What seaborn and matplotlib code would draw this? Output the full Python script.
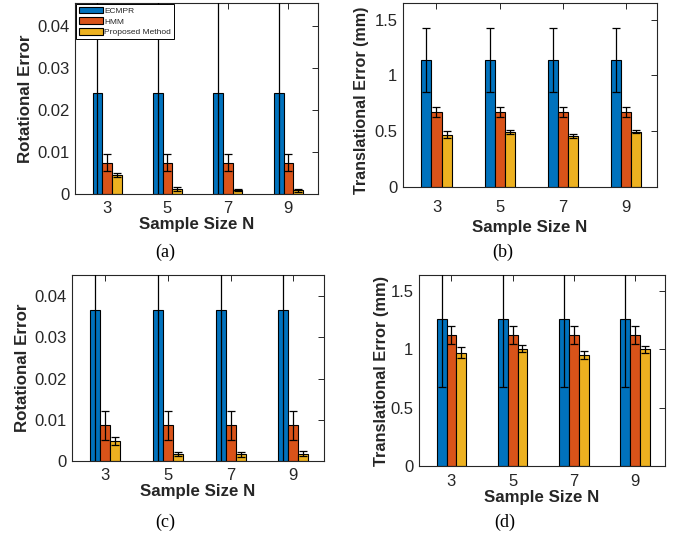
import matplotlib
matplotlib.use("Agg")
import matplotlib.pyplot as plt
from matplotlib.patches import Patch
import seaborn as sns
import pandas as pd

# ---- data -------------------------------------------------------------
sample_sizes = ["3", "5", "7", "9"]
methods = ["ECMPR", "HMM", "Proposed Method"]
colors = ["#0072BD", "#D95319", "#EDB120"]

# (a) rotational error, first setting
rot_a_ecmpr = [0.024, 0.024, 0.024, 0.024]
rot_a_hmm = [0.0075, 0.0075, 0.0075, 0.0075]
rot_a_prop = [0.0045, 0.0012, 0.0009, 0.0009]
rot_a_ecmpr_err = [0.030, 0.030, 0.030, 0.030]
rot_a_hmm_err = [0.0020, 0.0020, 0.0020, 0.0020]
rot_a_prop_err = [0.0005, 0.0005, 0.0003, 0.0004]

# (b) translational error, first setting
tr_b_ecmpr = [1.14, 1.14, 1.14, 1.14]
tr_b_hmm = [0.67, 0.67, 0.67, 0.67]
tr_b_prop = [0.468, 0.497, 0.457, 0.497]
tr_b_ecmpr_err = [0.285, 0.285, 0.285, 0.285]
tr_b_hmm_err = [0.045, 0.045, 0.045, 0.045]
tr_b_prop_err = [0.030, 0.018, 0.014, 0.015]

# (c) rotational error, second setting
rot_c_ecmpr = [0.0366, 0.0366, 0.0366, 0.0366]
rot_c_hmm = [0.0087, 0.0087, 0.0087, 0.0087]
rot_c_prop = [0.0049, 0.0017, 0.0016, 0.0018]
rot_c_ecmpr_err = [0.040, 0.040, 0.040, 0.040]
rot_c_hmm_err = [0.0035, 0.0035, 0.0035, 0.0035]
rot_c_prop_err = [0.0010, 0.0006, 0.0007, 0.0007]

# (d) translational error, second setting
tr_d_ecmpr = [1.257, 1.257, 1.257, 1.257]
tr_d_hmm = [1.122, 1.122, 1.122, 1.122]
tr_d_prop = [0.971, 1.003, 0.954, 1.000]
tr_d_ecmpr_err = [0.577, 0.577, 0.577, 0.577]
tr_d_hmm_err = [0.075, 0.075, 0.075, 0.075]
tr_d_prop_err = [0.047, 0.030, 0.035, 0.030]

rot_ticks = [0, 0.01, 0.02, 0.03, 0.04]
rot_tick_labels = ["0", "0.01", "0.02", "0.03", "0.04"]
tr_ticks = [0, 0.5, 1.0, 1.5]
tr_tick_labels = ["0", "0.5", "1", "1.5"]

xlabel = "Sample Size N"
rot_ylabel = "Rotational Error"
tr_ylabel = "Translational Error (mm)"
captions = ["(a)", "(b)", "(c)", "(d)"]

# ---- style ------------------------------------------------------------
sns.set_style("white")
plt.rcParams["font.family"] = ["Liberation Sans", "DejaVu Sans"]
axis_gray = "#262626"

W, H = 677, 538
fig = plt.figure(figsize=(W / 100, H / 100), dpi=100)


def px_axes(left, top, right, bottom):
    return fig.add_axes([left / W, 1 - bottom / H, (right - left) / W, (bottom - top) / H])


def panel(ax, vals, errs, ylim, ticks, tick_labels, ylabel, xpad, ypad, xtickpad,
          ysize, legend=False):
    rows = []
    for m, series in zip(methods, vals):
        for n, v in zip(sample_sizes, series):
            rows.append({"N": n, "value": v, "method": m})
    df = pd.DataFrame(rows)
    sns.barplot(data=df, x="N", y="value", hue="method", hue_order=methods,
                order=sample_sizes, palette=colors, saturation=1, width=0.48,
                edgecolor="black", linewidth=0.8, errorbar=None, legend=False, ax=ax)
    for cont, e in zip(ax.containers, errs):
        xs = [b.get_x() + b.get_width() / 2 for b in cont]
        ys = [b.get_height() for b in cont]
        ax.errorbar(xs, ys, yerr=e, fmt="none", ecolor="black", elinewidth=0.9,
                    capsize=2.6, capthick=0.9, zorder=5)
    ax.set_xlim(-0.53, 3.49)
    ax.set_ylim(*ylim)
    ax.set_yticks(ticks)
    ax.set_yticklabels(tick_labels)
    ax.tick_params(direction="in", length=4, width=0.7, colors=axis_gray,
                   labelsize=12, top=True, right=True, pad=4,
                   labelcolor=axis_gray)
    ax.tick_params(axis="x", pad=xtickpad)
    for s in ax.spines.values():
        s.set_visible(True)
        s.set_color(axis_gray)
        s.set_linewidth(0.8)
    ax.set_xlabel(xlabel, fontsize=12.2, fontweight="bold", color=axis_gray, labelpad=xpad)
    ax.set_ylabel(ylabel, fontsize=ysize, fontweight="bold", color=axis_gray, labelpad=ypad)
    if legend:
        handles = [Patch(facecolor=c, edgecolor="black", linewidth=0.8) for c in colors]
        leg = ax.legend(handles, methods, loc="upper left", fontsize=6,
                        frameon=True, fancybox=False, framealpha=1,
                        edgecolor="black", borderaxespad=0.15, handlelength=2.9,
                        handleheight=0.85, labelspacing=0.3, handletextpad=0.15,
                        borderpad=0.3)
        leg.get_frame().set_linewidth(0.7)


ax_a = px_axes(75, 3, 318, 194)
panel(ax_a, [rot_a_ecmpr, rot_a_hmm, rot_a_prop],
      [rot_a_ecmpr_err, rot_a_hmm_err, rot_a_prop_err],
      (0, 0.0455), rot_ticks, rot_tick_labels, rot_ylabel,
      xpad=0.5, ypad=3, xtickpad=5, ysize=12.2, legend=True)

ax_b = px_axes(403, 3, 657, 187)
panel(ax_b, [tr_b_ecmpr, tr_b_hmm, tr_b_prop],
      [tr_b_ecmpr_err, tr_b_hmm_err, tr_b_prop_err],
      (0, 1.65), tr_ticks, tr_tick_labels, tr_ylabel,
      xpad=4, ypad=1, xtickpad=9, ysize=11.6)
ax_b.yaxis.set_label_coords(-0.135, 0.47)

ax_c = px_axes(72, 275, 324, 461)
panel(ax_c, [rot_c_ecmpr, rot_c_hmm, rot_c_prop],
      [rot_c_ecmpr_err, rot_c_hmm_err, rot_c_prop_err],
      (0, 0.0451), rot_ticks, rot_tick_labels, rot_ylabel,
      xpad=0.5, ypad=3, xtickpad=5, ysize=12.2)

ax_d = px_axes(419, 275, 665, 466)
panel(ax_d, [tr_d_ecmpr, tr_d_hmm, tr_d_prop],
      [tr_d_ecmpr_err, tr_d_hmm_err, tr_d_prop_err],
      (0, 1.637), tr_ticks, tr_tick_labels, tr_ylabel,
      xpad=0.5, ypad=1, xtickpad=6, ysize=11.8)

cap_pos = [(165, 252), (503, 252), (165, 522), (505, 522)]
for txt, (cx, cy) in zip(captions, cap_pos):
    fig.text(cx / W, 1 - cy / H, txt, ha="center", va="center", fontsize=13,
             family=["Liberation Serif", "DejaVu Serif"], color="black")

fig.savefig("out.png", dpi=100)
